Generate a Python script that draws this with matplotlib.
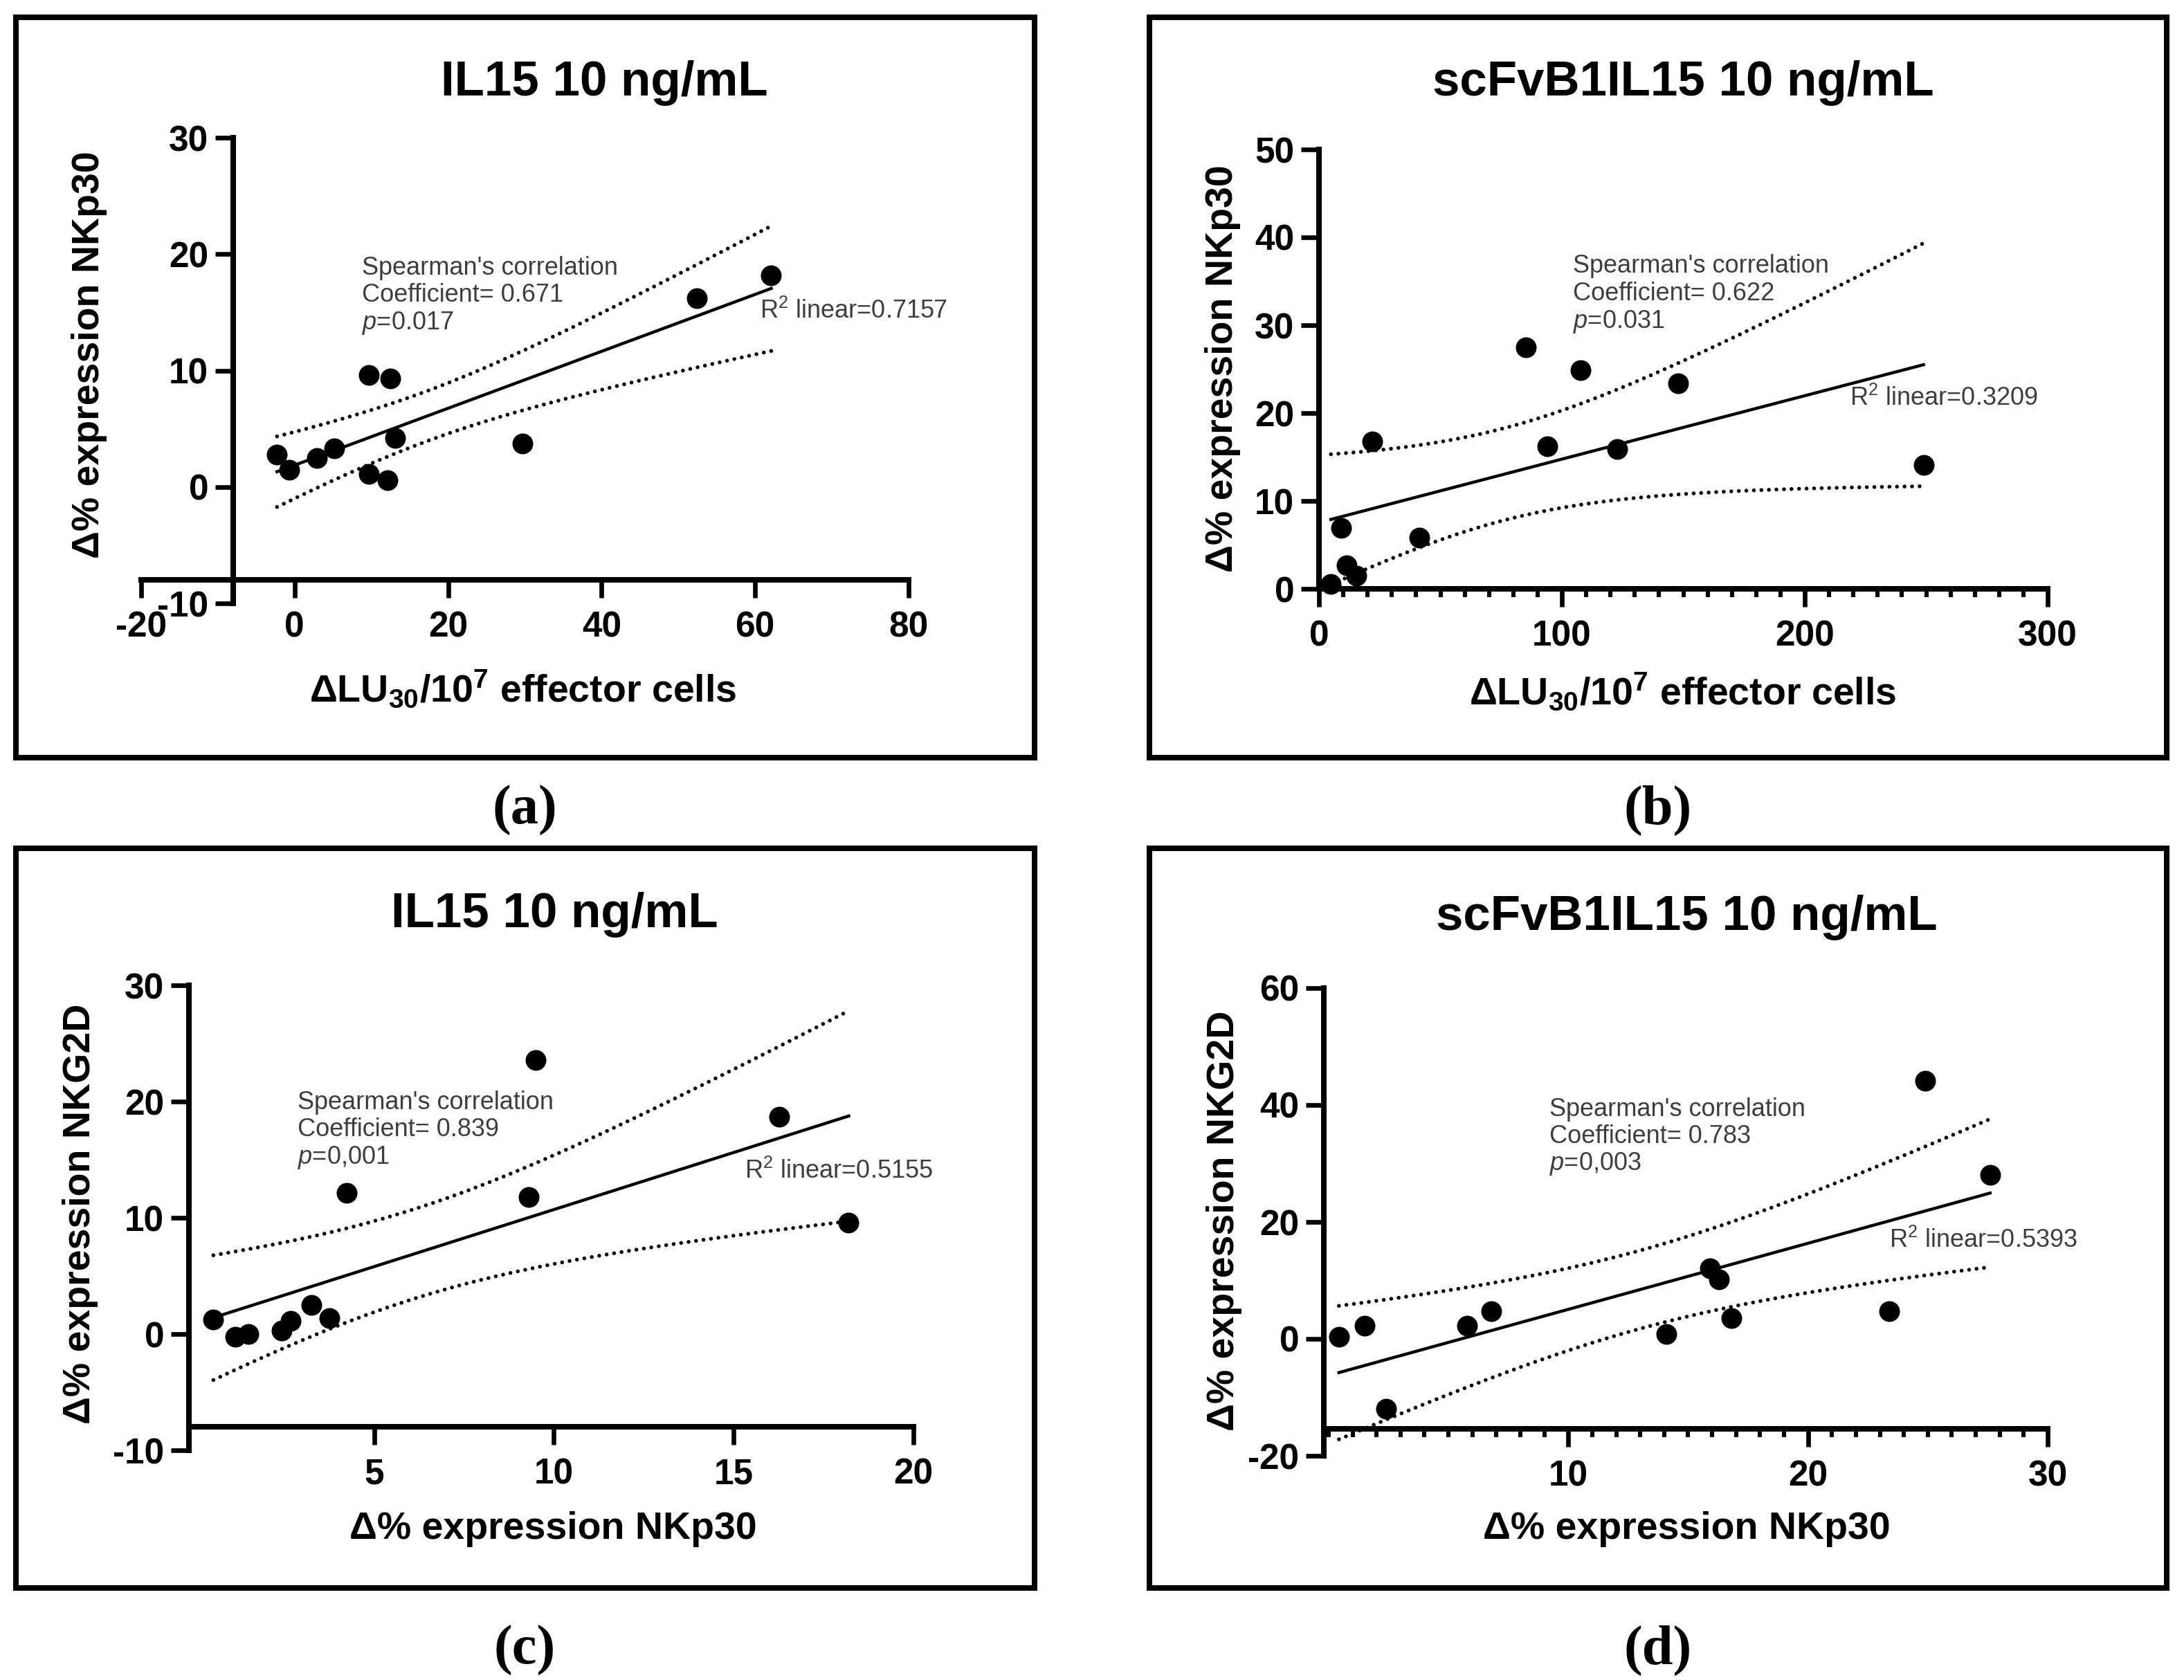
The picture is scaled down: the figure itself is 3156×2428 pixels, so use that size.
import numpy as np
import matplotlib
matplotlib.use("Agg")
import matplotlib.pyplot as plt
from matplotlib.patches import Rectangle
from matplotlib.ticker import FixedLocator, MultipleLocator

# fuentes tipo Arial (GraphPad)
plt.rcParams['font.family'] = ['Liberation Sans', 'DejaVu Sans']
plt.rcParams['mathtext.fontset'] = 'custom'
plt.rcParams['mathtext.rm'] = 'Liberation Sans'
plt.rcParams['mathtext.it'] = 'Liberation Sans:italic'
plt.rcParams['mathtext.bf'] = 'Liberation Sans:bold'
plt.rcParams['axes.unicode_minus'] = False  # guion normal como en GraphPad

# ---- datos ----
# (a) IL15: dLU30 vs d% NKp30
a_x = [-2.3, -0.7, 2.9, 5.2, 9.7, 12.5, 9.7, 12.1, 13.1, 29.7, 52.4, 62.1]
a_y = [2.75, 1.5, 2.5, 3.3, 9.6, 9.3, 1.1, 0.55, 4.2, 3.7, 16.2, 18.2]
# (b) scFvB1IL15: dLU30 vs d% NKp30
b_x = [4.9, 9.2, 11.5, 15.5, 21.8, 41.4, 85.3, 94.0, 107.8, 122.7, 148.0, 248.9]
b_y = [0.55, 6.9, 2.7, 1.5, 16.8, 5.8, 27.5, 16.2, 24.9, 15.9, 23.4, 14.1]
# (c) IL15: d% NKp30 vs d% NKG2D
c_x = [0.53, 1.13, 1.5, 2.43, 2.68, 3.26, 3.76, 4.23, 9.3, 9.5, 16.26, 18.2]
c_y = [1.26, -0.25, -0.02, 0.3, 1.13, 2.5, 1.36, 12.16, 11.8, 23.6, 18.7, 9.6]
# (d) scFvB1IL15: d% NKp30 vs d% NKG2D
d_x = [0.43, 1.5, 2.4, 5.77, 6.8, 14.1, 15.9, 16.3, 16.8, 23.4, 24.9, 27.6]
d_y = [0.37, 2.2, -12.0, 2.2, 4.75, 0.8, 12.1, 10.2, 3.6, 4.75, 44.2, 28.0]

titles = ["IL15 10 ng/mL", "scFvB1IL15 10 ng/mL", "IL15 10 ng/mL", "scFvB1IL15 10 ng/mL"]
ylabels = ["Δ% expression NKp30", "Δ% expression NKp30",
           "Δ% expression NKG2D", "Δ% expression NKG2D"]
xlabel_lu = r"ΔLU$_{\mathbf{30}}$/10$^{\mathbf{7}}$ effector cells"
xlabels = [xlabel_lu, xlabel_lu, "Δ% expression NKp30", "Δ% expression NKp30"]
spearman = ["0.671", "0.622", "0.839", "0.783"]
pvals = ["0.017", "0.031", "0,001", "0,003"]
r2 = ["0.7157", "0.3209", "0.5155", "0.5393"]
letters = ["(a)", "(b)", "(c)", "(d)"]

T_CRIT = 2.228  # t 95%, gl = 10

W, H = 3156, 2428
DPI = 200
fig = plt.figure(figsize=(W / DPI, H / DPI), dpi=DPI)


def fx(px):
    return px / W


def fy(py):
    return 1 - py / H


def panel(x, y, axbox, xlim, ylim, xcross, ycross, xbounds, ybounds,
          xticks, yticks, xminor, title, tpos, ylab, ypos, xlab, xpos,
          txt_pos, r2_pos, coef, pv, r2v, letter, lpos, box):
    x = np.array(x)
    y = np.array(y)
    x0, x1, y0, y1 = axbox
    ax = fig.add_axes([fx(x0), fy(y1), fx(x1 - x0), (y1 - y0) / H])
    ax.set_xlim(xlim)
    ax.set_ylim(ylim)
    ax.patch.set_alpha(0)
    for s in ['top', 'right']:
        ax.spines[s].set_visible(False)
    ax.spines['left'].set_position(('data', xcross))
    ax.spines['bottom'].set_position(('data', ycross))
    ax.spines['left'].set_bounds(*ybounds)
    ax.spines['bottom'].set_bounds(*xbounds)
    for s in ['left', 'bottom']:
        ax.spines[s].set_linewidth(2.9)
        ax.spines[s].set_capstyle('projecting')
    ax.xaxis.set_major_locator(FixedLocator(xticks))
    ax.yaxis.set_major_locator(FixedLocator(yticks))
    if xminor:
        ax.xaxis.set_minor_locator(MultipleLocator(xminor))
        ax.tick_params(axis='x', which='minor', length=4.3, width=2.2, direction='out')
    ax.tick_params(which='major', length=9.4, width=2.4, direction='out')
    ax.tick_params(axis='x', pad=6.5)
    ax.tick_params(axis='y', pad=3.5)
    for lab in ax.get_xticklabels() + ax.get_yticklabels():
        lab.set_fontsize(18.5)
        lab.set_fontweight('bold')

    # recta de regresion y banda de confianza 95%
    slope, inter = np.polyfit(x, y, 1)
    n = len(x)
    xs = np.linspace(x.min(), x.max(), 200)
    fit = slope * xs + inter
    resid = y - (slope * x + inter)
    s_err = np.sqrt(np.sum(resid ** 2) / (n - 2))
    band = T_CRIT * s_err * np.sqrt(1 / n + (xs - x.mean()) ** 2 / np.sum((x - x.mean()) ** 2))
    ax.plot(xs, fit, color='black', lw=1.6, clip_on=False, zorder=2)
    for yy in (fit + band, fit - band):
        ax.plot(xs, yy, color='black', lw=2.0, linestyle=(0, (0.01, 1.95)),
                dash_capstyle='round', clip_on=False, zorder=2)
    ax.plot(x, y, 'o', color='black', ms=10.8, mew=0, clip_on=False, zorder=3)

    # texto de correlacion
    gray = '#3d3d3d'
    lines = ["Spearman's correlation", "Coefficient= " + coef, "$p$=" + pv]
    for i, t in enumerate(lines):
        ax.text(txt_pos[0], txt_pos[1][i], t, fontsize=13, color=gray,
                ha='left', va='center')
    ax.text(r2_pos[0], r2_pos[1], "R$^2$ linear=" + r2v, fontsize=13, color=gray,
            ha='left', va='center')

    # titulos y etiquetas en pixeles de la figura
    fig.text(fx(tpos[0]), fy(tpos[1]), title, fontsize=25.5, fontweight='bold',
             ha='center', va='center')
    fig.text(fx(ypos[0]), fy(ypos[1]), ylab, fontsize=20, fontweight='bold',
             ha='center', va='center', rotation=90)
    fig.text(fx(xpos[0]), fy(xpos[1]), xlab, fontsize=20, fontweight='bold',
             ha='center', va='center')
    fig.text(fx(lpos[0]), fy(lpos[1]), letter, fontsize=29, fontweight='bold',
             family=['Liberation Serif', 'DejaVu Serif'], ha='center', va='center')
    bx0, bx1, by0, by1 = box
    fig.patches.append(Rectangle((fx(bx0), fy(by1)), fx(bx1 - bx0), (by1 - by0) / H,
                                 transform=fig.transFigure, fill=False,
                                 edgecolor='black', lw=2.9))
    return ax


# (a)
panel(a_x, a_y, (204, 1313, 199, 872), (-20, 80), (-10, 30), -8, -8,
      (-20, 80), (-10, 30), [-20, 0, 20, 40, 60, 80], [-10, 0, 10, 20, 30], None,
      titles[0], (873, 120), ylabels[0], (129, 513), xlabels[0], (756, 996),
      (8.8, [18.8, 16.5, 14.1]), (60.6, 15.1), spearman[0], pvals[0], r2[0],
      letters[0], (758, 1171), (23, 1495, 25, 1095))

# (b)
panel(b_x, b_y, (1906, 2959, 216, 851), (0, 300), (0, 50), 0, 0,
      (0, 300), (0, 50), [0, 100, 200, 300], [0, 10, 20, 30, 40, 50], 10,
      titles[1], (2432, 120), ylabels[1], (1767, 533), xlabels[1], (2432, 1000),
      (104.6, [36.7, 33.6, 30.4]), (218.4, 21.7), spearman[1], pvals[1], r2[1],
      letters[1], (2396, 1171), (1661, 3131, 25, 1095))

# (c)
panel(c_x, c_y, (273, 1320, 1424, 2096), (-0.15, 20), (-10, 30), -0.15, -8,
      (-0.15, 20), (-10, 30), [5, 10, 15, 20], [-10, 0, 10, 20, 30], None,
      titles[2], (801, 1322), ylabels[2], (116, 1754), xlabels[2], (799, 2210),
      (2.87, [19.9, 17.6, 15.2]), (15.3, 14.0), spearman[2], pvals[2], r2[2],
      letters[2], (758, 2385), (23, 1495, 1226, 2295))

# (d)
panel(d_x, d_y, (1913, 2959, 1428, 2104), (-0.2, 30), (-20, 60), -0.2, -15.4,
      (-0.2, 30), (-20, 60), [10, 20, 30], [-20, 0, 20, 40, 60], 1,
      titles[3], (2437, 1326), ylabels[3], (1769, 1764), xlabels[3], (2437, 2210),
      (9.2, [39.2, 34.6, 29.9]), (23.4, 16.8), spearman[3], pvals[3], r2[3],
      letters[3], (2396, 2385), (1661, 3131, 1226, 2295))

fig.savefig("out.png", dpi=DPI, facecolor='white')
